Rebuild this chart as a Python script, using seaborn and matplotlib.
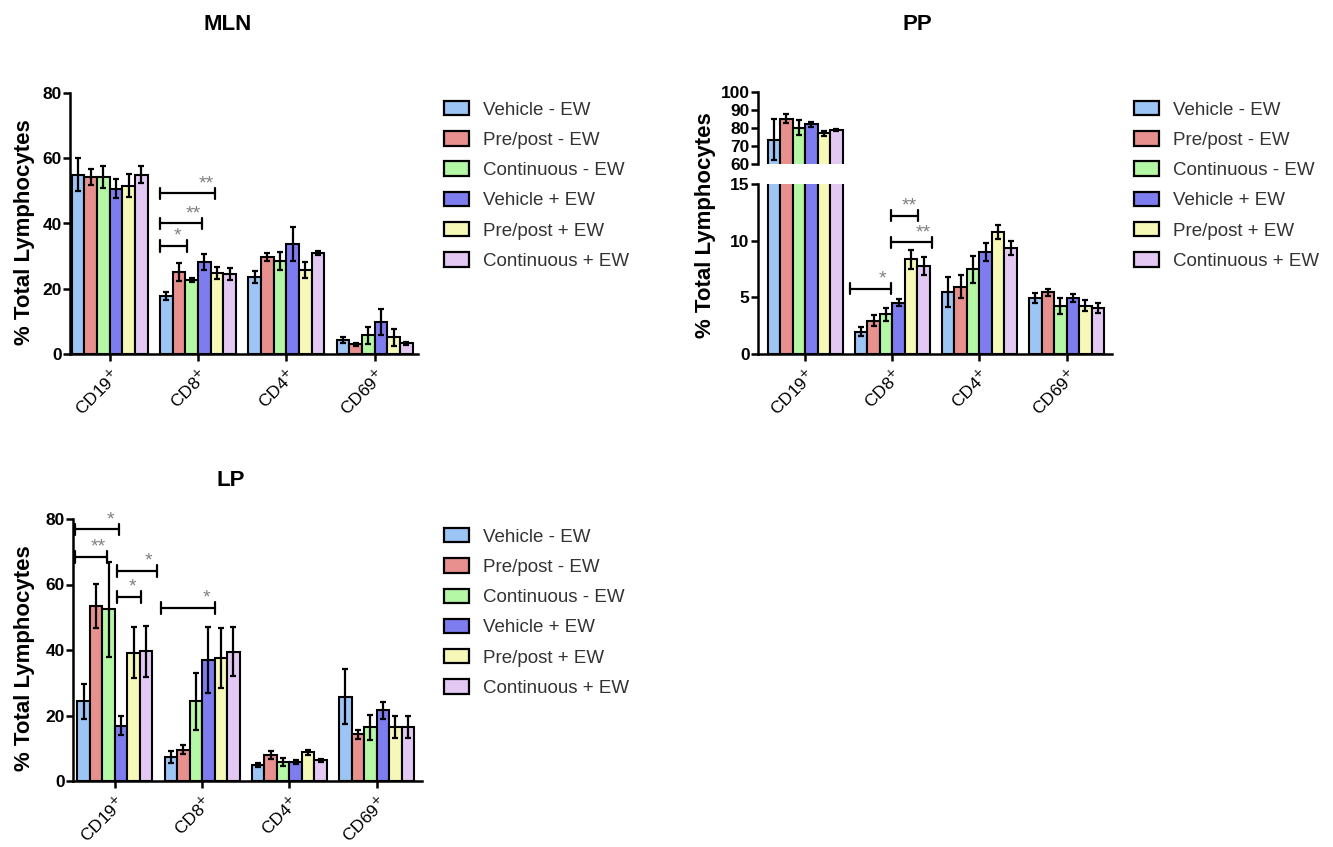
import matplotlib
matplotlib.use("Agg")
import matplotlib.pyplot as plt
from matplotlib.patches import Patch
import seaborn as sns
import pandas as pd

# === Data ===
markers = ["CD19$^{+}$", "CD8$^{+}$", "CD4$^{+}$", "CD69$^{+}$"]
groups = ["Vehicle - EW", "Pre/post - EW", "Continuous - EW",
          "Vehicle + EW", "Pre/post + EW", "Continuous + EW"]
colors = ["#9cc4f4", "#e8908e", "#b4f7a4", "#7d7df0", "#f6f8b8", "#e2c8f2"]

# one row per group, values for CD19, CD8, CD4, CD69
mln_mean = [[55.0, 17.8, 23.6, 4.3],
            [54.3, 25.2, 29.8, 3.0],
            [54.3, 22.7, 28.5, 5.7],
            [50.7, 28.2, 33.8, 9.8],
            [51.6, 24.9, 25.8, 5.1],
            [55.0, 24.5, 31.0, 3.3]]
mln_sem = [[5.0, 1.3, 1.7, 1.0],
           [2.5, 2.7, 1.2, 0.5],
           [3.3, 0.7, 2.7, 2.7],
           [3.0, 2.6, 5.2, 4.1],
           [3.5, 1.8, 2.5, 2.5],
           [2.6, 1.9, 0.6, 0.4]]

pp_mean = [[73.6, 1.97, 5.48, 4.92],
           [85.1, 2.95, 5.95, 5.45],
           [80.1, 3.50, 7.49, 4.27],
           [82.1, 4.54, 8.99, 4.92],
           [77.0, 8.34, 10.76, 4.27],
           [79.0, 7.78, 9.34, 4.10]]
pp_sem = [[11.5, 0.40, 1.30, 0.45],
          [2.4, 0.50, 1.00, 0.30],
          [4.2, 0.60, 1.20, 0.70],
          [1.5, 0.30, 0.77, 0.36],
          [1.6, 0.85, 0.60, 0.50],
          [0.7, 0.77, 0.60, 0.44]]

lp_mean = [[24.3, 7.3, 4.8, 25.75],
           [53.4, 9.6, 7.9, 14.25],
           [52.4, 24.3, 5.8, 16.4],
           [16.9, 36.9, 5.8, 21.6],
           [39.2, 37.5, 8.75, 16.4],
           [39.6, 39.5, 6.3, 16.4]]
lp_sem = [[5.4, 1.8, 0.6, 8.3],
          [6.8, 1.3, 1.3, 1.4],
          [14.5, 8.8, 1.1, 3.8],
          [3.0, 10.0, 0.5, 2.6],
          [7.7, 9.2, 0.7, 3.4],
          [7.8, 7.5, 0.5, 3.4]]

# significance brackets: (x start, x end, y, label)
mln_sig = [(0.57, 0.87, 33.2, "*"), (0.57, 1.05, 40.0, "**"), (0.57, 1.19, 49.2, "**")]
pp_sig = [(0.52, 0.99, 5.75, "*"), (0.98, 1.46, 9.84, "**"), (0.98, 1.30, 12.2, "**")]
lp_sig = [(-0.46, 0.05, 76.8, "*"), (-0.46, -0.09, 68.3, "**"), (0.02, 0.48, 64.1, "*"),
          (0.02, 0.30, 56.1, "*"), (0.53, 1.15, 52.9, "*")]

# === Style ===
sns.set_theme(style="ticks")
plt.rcParams["font.family"] = ["Liberation Sans", "DejaVu Sans"]
plt.rcParams["axes.linewidth"] = 1.8
plt.rcParams["xtick.major.width"] = 1.8
plt.rcParams["ytick.major.width"] = 1.8
plt.rcParams["xtick.major.size"] = 5
plt.rcParams["ytick.major.size"] = 5
plt.rcParams["axes.edgecolor"] = "black"
plt.rcParams["xtick.color"] = "black"
plt.rcParams["ytick.color"] = "black"
plt.rcParams["text.color"] = "black"

W, H = 1333, 847


def frac(x0, y_top, x1, y_bot):
    return [x0 / W, 1 - y_bot / H, (x1 - x0) / W, (y_bot - y_top) / H]


def long_df(mean):
    rows = []
    for g, vals in zip(groups, mean):
        for m, v in zip(markers, vals):
            rows.append({"marker": m, "group": g, "value": v})
    return pd.DataFrame(rows)


def draw_bars(ax, mean, sem):
    sns.barplot(data=long_df(mean), x="marker", y="value", hue="group",
                order=markers, hue_order=groups, palette=colors, saturation=1,
                width=0.86, gap=0, edgecolor="black", linewidth=1.5,
                errorbar=None, legend=False, ax=ax)
    bars = list(ax.containers)
    for cont, e in zip(bars, sem):
        xs = [b.get_x() + b.get_width() / 2 for b in cont]
        hs = [b.get_height() for b in cont]
        ax.errorbar(xs, hs, yerr=e, fmt="none", ecolor="black",
                    elinewidth=1.6, capsize=2.5, capthick=1.6, zorder=5)


def style_ax(ax, xlim, ylim, yticks):
    ax.set_xlim(*xlim)
    ax.set_ylim(*ylim)
    ax.set_yticks(yticks)
    ax.set_xlabel("")
    ax.set_ylabel("")
    sns.despine(ax=ax)
    ax.tick_params(axis="y", labelsize=12.5, pad=1)
    for t in ax.get_yticklabels():
        t.set_fontweight("bold")
    ax.set_xticks(range(len(markers)))
    ax.set_xticklabels(markers, rotation=45, ha="right", va="top",
                       rotation_mode="anchor", fontsize=12.5)


def draw_sig(ax, sig, tick):
    for x0, x1, y, lab in sig:
        ax.plot([x0, x1], [y, y], color="black", lw=1.6, zorder=6)
        ax.plot([x0, x0], [y - tick, y + tick], color="black", lw=1.6, zorder=6)
        ax.plot([x1, x1], [y - tick, y + tick], color="black", lw=1.6, zorder=6)
        ax.annotate(lab, (x1 - 0.1, y), xytext=(0, 1), textcoords="offset points",
                    ha="center", va="bottom", color="#808080", fontsize=14)


def add_legend(x, y):
    handles = [Patch(facecolor=c, edgecolor="black", linewidth=1.6) for c in colors]
    fig.legend(handles, groups, loc="upper left", bbox_to_anchor=(x / W, 1 - y / H),
               frameon=False, fontsize=13.5, handlelength=1.33, handleheight=0.8,
               handletextpad=0.75, labelspacing=0.67, borderpad=0, borderaxespad=0,
               labelcolor="#333333")


fig = plt.figure(figsize=(13.33, 8.47), dpi=100)

# === MLN ===
ax1 = fig.add_axes(frac(70, 93, 418, 354))
draw_bars(ax1, mln_mean, mln_sem)
style_ax(ax1, (-0.45, 3.49), (0, 80), [0, 20, 40, 60, 80])
draw_sig(ax1, mln_sig, 1.8)
fig.text(228 / W, 1 - 25 / H, "MLN", ha="center", va="center", fontsize=16, fontweight="bold")
fig.text(25 / W, 1 - 232 / H, "% Total Lymphocytes", rotation=90, ha="center", va="center",
         fontsize=16, fontweight="bold")
add_legend(444, 101)

# === PP (broken axis) ===
ax2b = fig.add_axes(frac(758, 184, 1112, 354))
draw_bars(ax2b, pp_mean, pp_sem)
style_ax(ax2b, (-0.54, 3.52), (0, 15), [0, 5, 10, 15])
draw_sig(ax2b, pp_sig, 0.5)

ax2t = fig.add_axes(frac(758, 92, 1112, 164))
draw_bars(ax2t, pp_mean, pp_sem)
style_ax(ax2t, (-0.54, 3.52), (60, 100), [60, 70, 80, 90, 100])
ax2t.spines["bottom"].set_visible(False)
ax2t.tick_params(axis="x", bottom=False, labelbottom=False)

fig.text(917 / W, 1 - 25 / H, "PP", ha="center", va="center", fontsize=16, fontweight="bold")
fig.text(705 / W, 1 - 225 / H, "% Total Lymphocytes", rotation=90, ha="center", va="center",
         fontsize=16, fontweight="bold")
add_legend(1134, 101)

# === LP ===
ax3 = fig.add_axes(frac(73, 519, 422, 781))
draw_bars(ax3, lp_mean, lp_sem)
style_ax(ax3, (-0.48, 3.52), (0, 80), [0, 20, 40, 60, 80])
draw_sig(ax3, lp_sig, 1.8)
fig.text(231 / W, 1 - 480 / H, "LP", ha="center", va="center", fontsize=16, fontweight="bold")
fig.text(25 / W, 1 - 658 / H, "% Total Lymphocytes", rotation=90, ha="center", va="center",
         fontsize=16, fontweight="bold")
add_legend(444, 528)

fig.savefig("out.png", dpi=100)
